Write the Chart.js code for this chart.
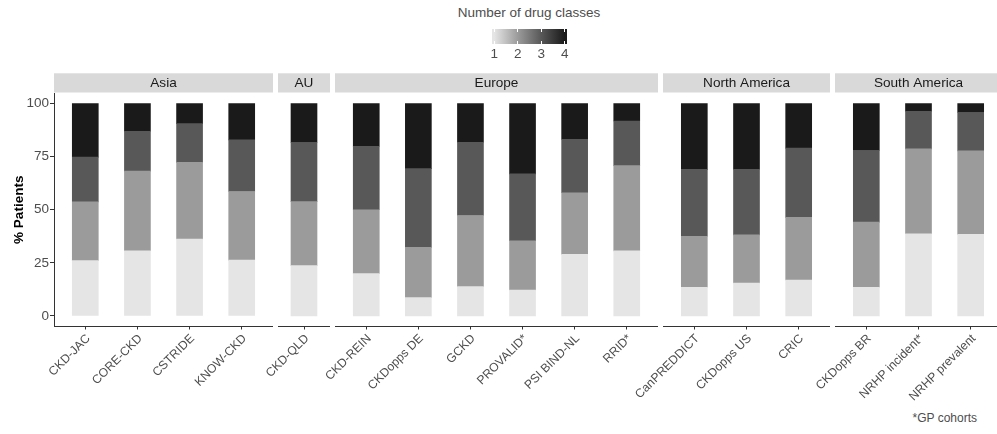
<!DOCTYPE html>
<html>
<head>
<meta charset="utf-8">
<script src="https://cdn.jsdelivr.net/npm/chart.js@4/dist/chart.umd.min.js"></script>
<style>
  html, body { margin: 0; padding: 0; background: #fff; overflow: hidden; }
  #page { position: relative; width: 997px; height: 434px; overflow: hidden;
          font-family: "Liberation Sans", Arial, Helvetica, sans-serif; }
  .facet { position: absolute; top: 0; }
  #legendTitle { position: absolute; left: 429px; width: 200px; top: 5px; text-align: center;
                 font-size: 13.5px; line-height: 16px; color: #4d4d4d; white-space: nowrap; }
  #colorbar { position: absolute; left: 492px; top: 29px; width: 75px; height: 15px; }
  .cbTick { position: absolute; width: 1px; height: 3px; background: #fff; }
  .cbLabel { position: absolute; top: 46px; width: 20px; margin-left: -10px; text-align: center;
             font-size: 13.5px; line-height: 16px; color: #4d4d4d; }
  #note { position: absolute; right: 20px; top: 412px; font-size: 12px; line-height: 12px; color: #4d4d4d; }
</style>
</head>
<body>
<div id="page">
  <div id="legendTitle">Number of drug classes</div>
  <div id="colorbar"></div>
  <div id="note">*GP cohorts</div>
</div>
<script>
// ---- data ----------------------------------------------------------------
const regions = ['Asia', 'AU', 'Europe', 'North America', 'South America'];

const cohorts = [
  'CKD-JAC', 'CORE-CKD', 'CSTRIDE', 'KNOW-CKD',
  'CKD-QLD',
  'CKD-REIN', 'CKDopps DE', 'GCKD', 'PROVALID*', 'PSI BIND-NL', 'RRID*',
  'CanPREDDICT', 'CKDopps US', 'CRIC',
  'CKDopps BR', 'NRHP incident*', 'NRHP prevalent'
];

const cohortRegion = [
  'Asia', 'Asia', 'Asia', 'Asia',
  'AU',
  'Europe', 'Europe', 'Europe', 'Europe', 'Europe', 'Europe',
  'North America', 'North America', 'North America',
  'South America', 'South America', 'South America'
];

// % of patients on 1, 2, 3 and 4 drug classes (same order as cohorts)
const oneClass     = [26.0, 30.7, 36.2, 26.3, 23.7, 19.9,  8.6, 13.8, 12.2, 29.0, 30.6, 13.5, 15.5, 16.9, 13.5, 38.7, 38.4];
const twoClasses   = [27.7, 37.5, 36.1, 32.3, 30.1, 30.1, 23.7, 33.5, 23.2, 29.0, 40.2, 24.0, 22.7, 29.5, 30.7, 40.0, 39.3];
const threeClasses = [21.1, 18.8, 18.3, 24.3, 27.9, 29.9, 37.1, 34.5, 31.5, 25.2, 21.0, 31.5, 30.9, 32.6, 33.7, 17.7, 18.1];
const fourClasses  = [25.2, 13.0,  9.4, 17.1, 18.3, 20.1, 30.6, 18.2, 33.1, 16.8,  8.2, 31.0, 30.9, 21.0, 22.1,  3.6,  4.2];

const classLevels = [1, 2, 3, 4];
const yTicks = [0, 25, 50, 75, 100];

// ---- styling / layout --------------------------------------------------------
const FONT = '"Liberation Sans", Arial, Helvetica, sans-serif';
const levelColors = ['#e5e5e5', '#9b9b9b', '#585858', '#1a1a1a'];
const levelSeries = [oneClass, twoClasses, threeClasses, fourClasses];

// pixel extent of each facet panel [left, right]
const panelBox = [[54, 273], [278, 330], [335, 658], [663, 830], [835, 1002]];
const CANVAS_H = 434;
const AREA_TOP = 93;
const AREA_BOTTOM = 326.5;
const LEFT_ROOM = 70;   // canvas room left of a panel for the slanted labels

Chart.defaults.font.family = FONT;

// grey strip with the facet name above each panel
const facetStrip = {
  id: 'facetStrip',
  afterDraw(chart, args, opts) {
    const { ctx, chartArea: a } = chart;
    ctx.save();
    ctx.fillStyle = '#d9d9d9';
    ctx.fillRect(a.left, a.top - 19.7, a.right - a.left, 19.2);
    ctx.fillStyle = '#1a1a1a';
    ctx.font = '13.6px ' + FONT;
    ctx.textAlign = 'center';
    ctx.textBaseline = 'middle';
    ctx.fillText(opts.title, (a.left + a.right) / 2, a.top - 9.6);
    ctx.restore();
  }
};

const page = document.getElementById('page');

regions.forEach((region, r) => {
  const members = cohorts.map((_, i) => i).filter(i => cohortRegion[i] === region);
  const names = members.map(i => cohorts[i]);
  const positions = names.map((_, k) => k + 1);
  const n = names.length;
  const [pl, pr] = panelBox[r];
  const withAxis = r === 0;
  const canvasLeft = withAxis ? 0 : pl - LEFT_ROOM;
  const canvasW = pr - canvasLeft;

  const canvas = document.createElement('canvas');
  canvas.className = 'facet';
  canvas.style.left = canvasLeft + 'px';
  canvas.width = canvasW;
  canvas.height = CANVAS_H;
  canvas.style.width = canvasW + 'px';
  canvas.style.height = CANVAS_H + 'px';
  page.appendChild(canvas);

  const datasets = classLevels.map((lvl, l) => ({
    label: String(lvl),
    data: members.map(i => levelSeries[l][i]),
    backgroundColor: levelColors[l],
    borderWidth: 0,
    barThickness: 26
  }));

  new Chart(canvas, {
    type: 'bar',
    data: { labels: positions, datasets },
    options: {
      responsive: false,
      animation: false,
      devicePixelRatio: 1,
      layout: { padding: { top: AREA_TOP, left: withAxis ? 0 : LEFT_ROOM, right: 0, bottom: 0 } },
      plugins: {
        legend: { display: false },
        tooltip: { enabled: false },
        facetStrip: { title: region }
      },
      scales: {
        x: {
          type: 'linear',
          stacked: true,
          offset: false,
          min: 0.4,
          max: n + 0.6,
          afterBuildTicks: s => { s.ticks = positions.map(v => ({ value: v })); },
          afterFit: s => {
            s.height = CANVAS_H - AREA_BOTTOM;
            s.paddingLeft = 0;
            s.paddingRight = 0;
          },
          ticks: {
            autoSkip: false,
            minRotation: 45,
            maxRotation: 45,
            padding: 2,
            labelOffset: 3,
            color: '#4d4d4d',
            font: { size: 12.2 },
            callback: v => names[v - 1]
          },
          grid: { display: true, offset: false, drawOnChartArea: false, drawTicks: true, tickLength: 3, color: '#333' },
          border: { display: true, color: '#333', width: 1 }
        },
        y: {
          type: 'linear',
          stacked: true,
          min: -5,
          max: 105,
          display: withAxis,
          afterBuildTicks: s => { s.ticks = yTicks.map(v => ({ value: v })); },
          afterFit: s => { s.width = withAxis ? panelBox[0][0] : 0; },
          ticks: { color: '#4d4d4d', font: { size: 13.5 }, padding: 1 },
          grid: { display: true, drawOnChartArea: false, drawTicks: true, tickLength: 4, color: '#333' },
          border: { display: true, color: '#333', width: 1 },
          title: {
            display: true,
            text: '% Patients',
            color: '#000',
            font: { size: 13.5, weight: 'bold' },
            padding: { top: 11, bottom: 0 }
          }
        }
      }
    },
    plugins: [facetStrip]
  });
});

// ---- colour bar legend ---------------------------------------------------------
const cb = document.getElementById('colorbar');
const cbLeft = 492, cbWidth = 75, cbInset = 2.3;
const cbPos = v => cbInset + (v - classLevels[0]) / (classLevels[classLevels.length - 1] - classLevels[0]) * (cbWidth - 2 * cbInset);
cb.style.background = 'linear-gradient(to right, ' +
  classLevels.map((v, l) => levelColors[l] + ' ' + (cbPos(v) / cbWidth * 100).toFixed(1) + '%').join(', ') + ')';
classLevels.forEach(v => {
  const x = cbPos(v);
  ['top', 'bottom'].forEach(side => {
    const t = document.createElement('div');
    t.className = 'cbTick';
    t.style.left = (x - 0.5) + 'px';
    t.style[side] = '0px';
    cb.appendChild(t);
  });
  const lab = document.createElement('div');
  lab.className = 'cbLabel';
  lab.style.left = (cbLeft + x) + 'px';
  lab.textContent = String(v);
  page.appendChild(lab);
});
</script>
</body>
</html>
